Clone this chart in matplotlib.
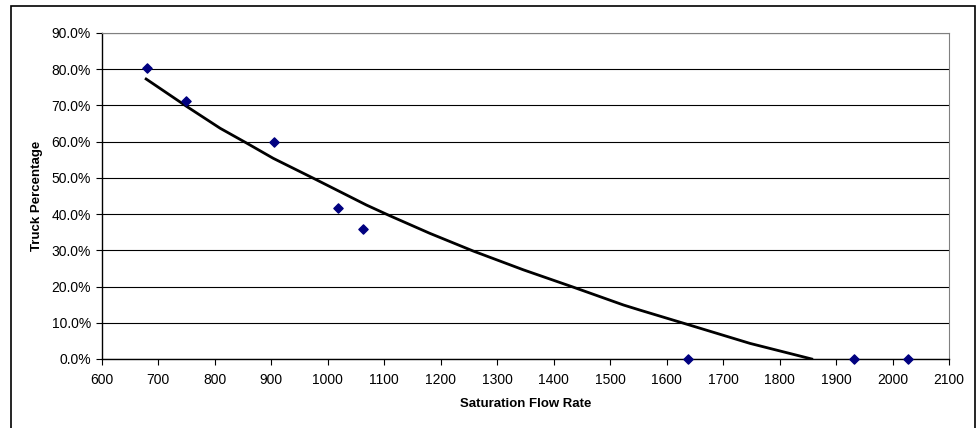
import numpy as np
import matplotlib
matplotlib.use("Agg")
import matplotlib.pyplot as plt
from matplotlib.patches import Rectangle
from matplotlib.ticker import PercentFormatter

plt.rcParams['font.family'] = ['Liberation Sans', 'DejaVu Sans']

# observed data
flow_rate = [680, 750, 906, 1018, 1063, 1638, 1932, 2028]
truck_pct = [0.803, 0.713, 0.600, 0.418, 0.360, 0.0, 0.0, 0.0]

# trendline
trend_x = [679, 751, 810, 857, 904, 975, 1069, 1111, 1181, 1258, 1347,
           1432, 1524, 1553, 1636, 1748, 1857]
trend_y = [0.773, 0.697, 0.637, 0.596, 0.554, 0.499, 0.425, 0.395, 0.347,
           0.298, 0.246, 0.200, 0.149, 0.135, 0.096, 0.043, 0.0]

x_ticks = list(range(600, 2101, 100))
y_ticks = [i / 10 for i in range(10)]

fig = plt.figure(figsize=(9.8, 4.28), dpi=100)
ax = fig.add_axes([101.5 / 980, 1 - 359 / 428, (949 - 101.5) / 980, (359 - 33) / 428])

# outer chart frame
fig.patches.append(Rectangle((11 / 980, -0.01), (975 - 11) / 980, 1 - 6 / 428 + 0.01,
                             transform=fig.transFigure, fill=False,
                             edgecolor='black', linewidth=1.2))

ax.plot(trend_x, trend_y, color='black', linewidth=2, zorder=2)

ax.scatter(flow_rate, truck_pct, marker='D', s=22, color='#000080', zorder=3,
           clip_on=False)

ax.set_xlim(600, 2100)
ax.set_ylim(0, 0.9)
ax.set_xticks(x_ticks)
ax.set_yticks(y_ticks)
ax.yaxis.set_major_formatter(PercentFormatter(1.0, decimals=1))
ax.grid(axis='y', color='black', linewidth=0.8)
ax.set_axisbelow(True)

for side in ['top', 'right']:
    ax.spines[side].set_color('#808080')
for side in ['left', 'bottom']:
    ax.spines[side].set_color('black')
    ax.spines[side].set_linewidth(1.0)

ax.tick_params(axis='both', direction='out', length=4, width=0.8, labelsize=10)
ax.tick_params(axis='x', pad=6)

ax.set_xlabel('Saturation Flow Rate', fontsize=9.5, fontweight='bold', labelpad=8)
ax.set_ylabel('Truck Percentage', fontsize=9.5, fontweight='bold', labelpad=6)

fig.savefig('out.png', dpi=100)
